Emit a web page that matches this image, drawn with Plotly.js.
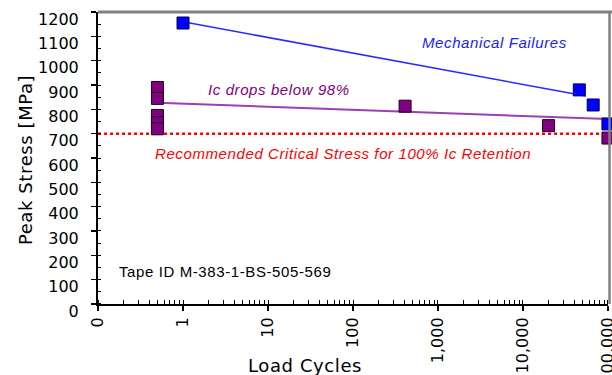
<!DOCTYPE html>
<html><head><meta charset="utf-8">
<script src="https://cdn.plot.ly/plotly-3.0.1.min.js"></script>
<style>html,body{margin:0;padding:0;background:#fff}#chart{width:612px;height:375px}
.annotation-text{letter-spacing:0.6px}</style>
</head><body><div id="chart"></div>
<script>
// Data
const mechCycles = [1, 46000, 67000, 100000];
const mechStress = [1155, 880, 818, 740];
const mechTrendCycles = [1, 55000];
const mechTrendStress = [1160, 855];

const icCycles = [0.5, 0.5, 0.5, 0.5, 0.5, 410, 20000, 100000];
const icStress = [890, 845, 775, 745, 720, 813, 733, 682];
const icTrendCycles = [0.5, 100000];
const icTrendStress = [827, 760];

const critCycles = [0.1, 100000];
const critStress = [700, 700];

const xTickVals = [0.1, 1, 10, 100, 1000, 10000, 100000];
const xTickText = ["0", "1", "10", "100", "1,000", "10,000", "100,000"];
const yTickVals = [0,100,200,300,400,500,600,700,800,900,1000,1100,1200];

const tickFont = {family: "DejaVu Sans", size: 16, color: "#000"};

const traces = [
  {x: critCycles, y: critStress, mode: "lines", line: {color: "#ff0000", width: 2.5, dash: "dot"}, cliponaxis: false},
  {x: mechTrendCycles, y: mechTrendStress, mode: "lines", line: {color: "#2a2aff", width: 1.5}, cliponaxis: false},
  {x: icTrendCycles, y: icTrendStress, mode: "lines", line: {color: "#9a40b0", width: 2}, cliponaxis: false},
  {x: mechCycles, y: mechStress, mode: "markers", marker: {symbol: "square", size: 12, color: "#0000ff", line: {color: "#000060", width: 1}}, cliponaxis: false},
  {x: icCycles, y: icStress, mode: "markers", marker: {symbol: "square", size: 12, color: "#800080", line: {color: "#200020", width: 1}}, cliponaxis: false}
];

const layout = {
  width: 612, height: 375,
  margin: {l: 98, r: 4, t: 12, b: 71},
  paper_bgcolor: "#fff", plot_bgcolor: "#fff",
  showlegend: false,
  xaxis: {
    type: "log", range: [-1.0005, 5.0005], tickvals: xTickVals, ticktext: xTickText,
    tickangle: -90, tickfont: tickFont, ticks: "outside", ticklen: 5, tickwidth: 1.5, tickcolor: "#000",
    ticklabeloverflow: "allow",
    showline: true, linecolor: "#000", linewidth: 2, showgrid: false, zeroline: false,
    minor: {dtick: "D1", ticks: "inside", ticklen: 4, tickcolor: "#000", tickwidth: 1},
    fixedrange: true
  },
  yaxis: {
    range: [-0.3, 1200.3], tickvals: yTickVals, tickfont: tickFont,
    ticks: "outside", ticklen: 5, tickwidth: 1.5, tickcolor: "#000",
    ticklabelstandoff: 9, ticklabelshift: 7, ticklabeloverflow: "allow",
    showline: true, linecolor: "#000", linewidth: 2, showgrid: false, zeroline: false,
    minor: {dtick: 50, ticks: "inside", ticklen: 3, tickcolor: "#000", tickwidth: 1},
    fixedrange: true
  },
  yaxis2: {overlaying: "y", range: [-0.3, 1200.3], tickvals: yTickVals, showticklabels: false,
    ticks: "inside", ticklen: 5, tickwidth: 1.5, tickcolor: "#000", showgrid: false, zeroline: false, showline: false},
  shapes: [
    {type: "line", xref: "paper", yref: "paper", x0: 0, x1: 1.01, y0: 1, y1: 1, line: {color: "#808080", width: 3}},
    {type: "line", xref: "paper", yref: "paper", x0: 1.003, x1: 1.003, y0: 0, y1: 1, line: {color: "#808080", width: 2.5}}
  ],
  annotations: [
    {text: "Mechanical Failures", xref: "paper", yref: "paper", x: 0.778, y: 0.897, xanchor: "center", yanchor: "middle", showarrow: false,
     font: {family: "Liberation Sans", size: 15, color: "#2020ff", style: "italic"}},
    {text: "Ic drops below 98%", xref: "paper", yref: "paper", x: 0.355, y: 0.733, xanchor: "center", yanchor: "middle", showarrow: false,
     font: {family: "Liberation Sans", size: 15, color: "#800080", style: "italic"}},
    {text: "Recommended Critical Stress for 100% Ic Retention", xref: "paper", yref: "paper", x: 0.48, y: 0.517, xanchor: "center", yanchor: "middle", showarrow: false,
     font: {family: "Liberation Sans", size: 15, color: "#ff0000", style: "italic"}},
    {text: "Tape ID M-383-1-BS-505-569", xref: "paper", yref: "paper", x: 0.249, y: 0.113, xanchor: "center", yanchor: "middle", showarrow: false,
     font: {family: "Liberation Sans", size: 15, color: "#000"}},
    {text: "Load Cycles", xref: "paper", yref: "paper", x: 0.406, y: -0.209, xanchor: "center", yanchor: "middle", showarrow: false,
     font: {family: "DejaVu Sans", size: 18, color: "#000"}},
    {text: "Peak Stress [MPa]", xref: "paper", yref: "paper", x: -0.143, y: 0.493, xanchor: "center", yanchor: "middle", showarrow: false, textangle: -90,
     font: {family: "DejaVu Sans", size: 18, color: "#000"}}
  ]
};

Plotly.newPlot("chart", traces, layout, {staticPlot: true, displayModeBar: false});
</script></body></html>
